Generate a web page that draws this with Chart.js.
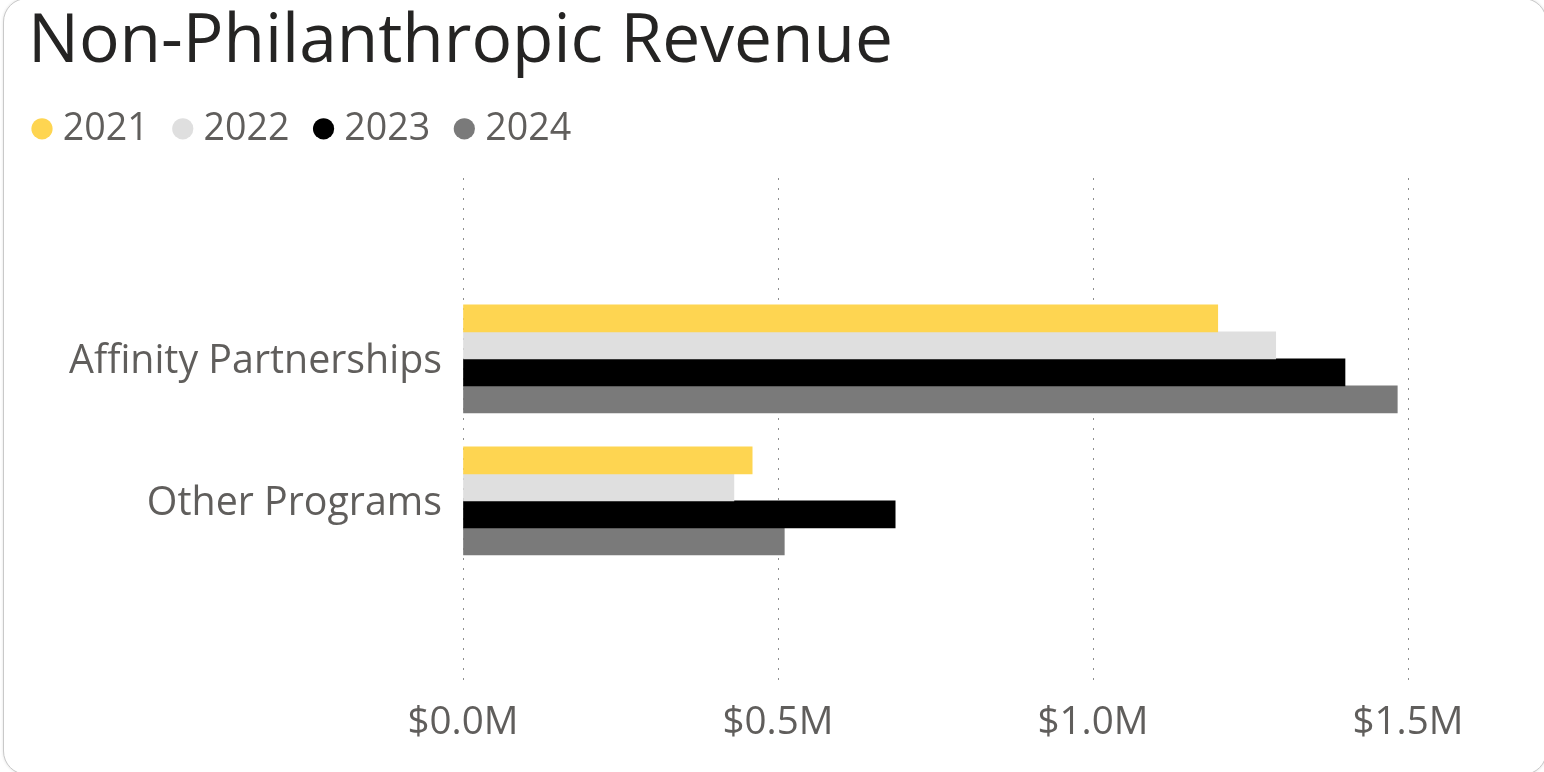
<!DOCTYPE html>
<html>
<head>
<meta charset="utf-8">
<script src="https://cdn.jsdelivr.net/npm/chart.js@4.4.1/dist/chart.umd.min.js"></script>
<style>
  html, body { margin: 0; padding: 0; background: #ffffff; overflow: hidden; }
  #card {
    position: absolute; left: 3px; top: -2px; width: 1544px; height: 777px;
    box-sizing: border-box; border: 1.5px solid #c9c9c9; border-radius: 24px;
    box-shadow: 0 0 3px rgba(0,0,0,0.12); background: #fff;
  }
  #wrap { position: absolute; left: 0; top: 0; width: 1544px; height: 772px; }
</style>
</head>
<body>
<div id="card"></div>
<div id="wrap"><canvas id="c"></canvas></div>
<script>
// ---- data ----
const chartTitle = 'Non-Philanthropic Revenue';
const categories = ['Affinity Partnerships', 'Other Programs'];
const years = ['2021', '2022', '2023', '2024'];
const values2021 = [1198000, 459000];
const values2022 = [1290000, 430000];
const values2023 = [1400000, 686000];
const values2024 = [1483000, 510000];
const xTickValues = [0, 500000, 1000000, 1500000];

// ---- styling ----
const FONT = '"Open Sans", "Noto Sans", sans-serif';
const colors = ['#FED551', '#DFDFDF', '#000000', '#7A7A7A'];
const textGray = '#605E5C';

function fitSize(text, target) {
  const ctx = document.createElement('canvas').getContext('2d');
  ctx.font = '100px ' + FONT;
  return 100 * target / ctx.measureText(text).width;
}
const titleSize = fitSize(chartTitle, 865);
const legendSize = fitSize('2021', 86);
const yLabelSize = fitSize('Affinity Partnerships', 373);
const xLabelSize = fitSize('$0.0M', 111);

// vertical layout targets
const titlePadTop = 9;
const legendTop = 78;
const legendPad = 32;
const plotTop = 178;
const titlePadBottom = legendTop - titlePadTop - titleSize;
const gapHeight = Math.max(0, plotTop - (legendTop + legendSize + legendPad + 10));

const seriesValues = [values2021, values2022, values2023, values2024];
const datasets = years.map((y, k) => ({
  label: y,
  data: seriesValues[k].map((v, i) => ({ x: v, y: i })),
  backgroundColor: colors[k],
  borderWidth: 0,
  barThickness: 27
}));

const titleShift = {
  id: 'titleShift',
  afterLayout(chart) { if (chart.titleBlock) chart.titleBlock.left = 28; }
};

// empty layout box that keeps a gap between the legend and the plot
const legendGap = {
  id: 'legendGap',
  beforeInit(chart) {
    Chart.layouts.addBox(chart, {
      position: 'top', weight: 500, fullSize: true, options: {},
      left: 0, top: 0, right: 0, bottom: 0, width: 0, height: 0,
      isHorizontal() { return true; },
      update(maxWidth) { this.width = maxWidth; this.height = gapHeight; },
      draw() {}
    });
  }
};

new Chart(document.getElementById('c'), {
  type: 'bar',
  data: { datasets },
  plugins: [titleShift, legendGap],
  options: {
    indexAxis: 'y',
    responsive: true,
    maintainAspectRatio: false,
    animation: false,
    layout: { padding: { left: 8, right: 41.5, top: 0, bottom: 14 } },
    plugins: {
      title: {
        display: true, text: chartTitle, align: 'start', color: '#252423',
        font: { family: FONT, size: titleSize, weight: 'normal', lineHeight: 1.0 },
        padding: { top: titlePadTop, bottom: titlePadBottom }
      },
      legend: {
        display: true, position: 'top', align: 'start',
        labels: {
          usePointStyle: true, pointStyle: 'circle',
          boxWidth: 4, boxHeight: 15, padding: legendPad,
          color: textGray,
          font: { family: FONT, size: legendSize }
        }
      },
      tooltip: { enabled: false }
    },
    scales: {
      x: {
        type: 'linear', position: 'bottom', min: 0, max: 1650000,
        afterBuildTicks: (s) => { s.ticks = xTickValues.map(v => ({ value: v })); },
        ticks: {
          color: textGray, padding: 12, maxRotation: 0, autoSkip: false,
          font: { family: FONT, size: xLabelSize },
          callback: (v) => '$' + (v / 1000000).toFixed(1) + 'M'
        },
        grid: { display: true, drawTicks: false, color: '#8f8f8f', lineWidth: 1 },
        border: { display: false, dash: [2, 8] }
      },
      y: {
        type: 'linear', position: 'left', reverse: true, offset: false,
        min: -1.2746, max: 2.317,
        afterBuildTicks: (s) => { s.ticks = categories.map((_, i) => ({ value: i })); },
        afterFit: (s) => { s.width = 455; },
        ticks: {
          color: textGray, padding: 21, autoSkip: false, labelOffset: 3,
          font: { family: FONT, size: yLabelSize },
          callback: (v) => categories[v] !== undefined ? categories[v] : ''
        },
        grid: { display: false, drawTicks: false },
        border: { display: false }
      }
    }
  }
});
</script>
</body>
</html>
